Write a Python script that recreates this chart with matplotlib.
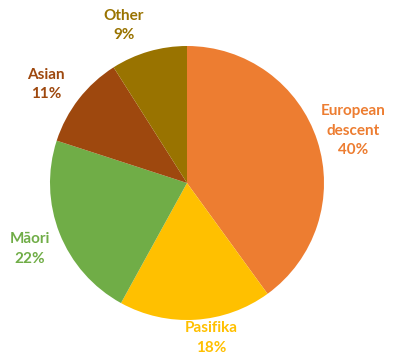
import matplotlib.pyplot as plt

# data
labels = ["European\ndescent", "Pasifika", "M\u0101ori", "Asian", "Other"]
shares = [40, 18, 22, 11, 9]
colors = ["#ED7D31", "#FFC000", "#70AD47", "#9E480E", "#997300"]
label_pos = [(1.21, 0.38), (0.18, -1.13), (-1.15, -0.48), (-1.03, 0.72), (-0.46, 1.15)]

fig = plt.figure(figsize=(3.99, 3.55), dpi=100)
cx, cy, r = 187, 172, 137
ax = fig.add_axes([(cx - r) / 399, (cy - r) / 355, 2 * r / 399, 2 * r / 355])
ax.pie(shares, colors=colors, startangle=90, counterclock=False, radius=1,
       wedgeprops=dict(linewidth=0))
ax.set_xlim(-1, 1)
ax.set_ylim(-1, 1)
ax.axis("off")

for lab, val, col, (x, y) in zip(labels, shares, colors, label_pos):
    ax.text(x, y, f"{lab}\n{val}%", color=col, ha="center", va="center",
            fontsize=11, fontweight="bold", family="Lato", linespacing=1.5,
            clip_on=False)

fig.savefig("out.png", dpi=100)
